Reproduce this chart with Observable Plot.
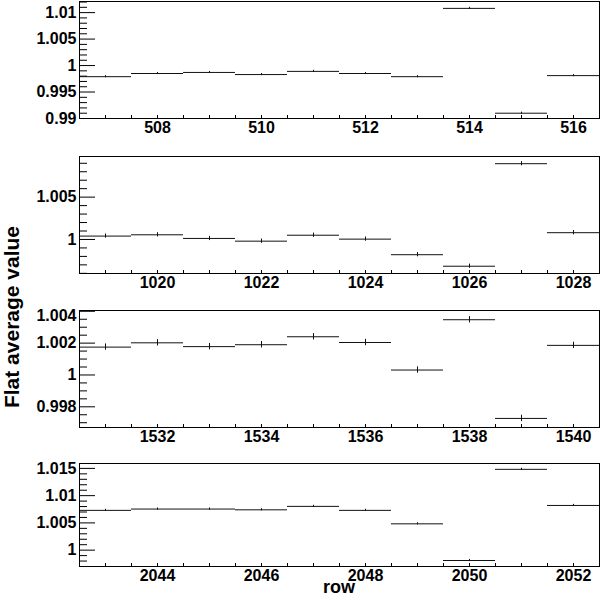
<!DOCTYPE html>
<html>
<head>
<meta charset="utf-8">
<script src="https://cdn.jsdelivr.net/npm/d3@7"></script>
<script src="https://cdn.jsdelivr.net/npm/@observablehq/plot@0.6"></script>
<style>
  html, body { margin: 0; padding: 0; background: white; }
  #wrap { position: relative; width: 600px; height: 597px; overflow: hidden; background: white;
          font-family: "Liberation Sans", Arial, Helvetica, sans-serif; }
  .panel { position: absolute; left: 0; }
  .ylab { position: absolute; left: 11px; top: 317px; transform: translate(-50%, -50%) rotate(-90deg);
          font-size: 21px; font-weight: bold; white-space: nowrap; line-height: 21px; }
  .xlab { position: absolute; left: 339px; top: 578px; transform: translateX(-50%);
          font-size: 18px; font-weight: bold; white-space: nowrap; line-height: 18px; }
</style>
</head>
<body>
<div id="wrap">
  <div class="ylab">Flat average value</div>
  <div class="xlab">row</div>
</div>
<script>
// ---- Data ----
const rows1 = [507, 508, 509, 510, 511, 512, 513, 514, 515, 516];
const vals1 = [0.9979, 0.9985, 0.9987, 0.9983, 0.9989, 0.9985, 0.9979, 1.0108, 0.9910, 0.9981];
const errs1 = [0.0002, 0.0002, 0.0002, 0.0002, 0.0002, 0.0002, 0.0002, 0.0002, 0.0002, 0.0002];

const rows2 = [1019, 1020, 1021, 1022, 1023, 1024, 1025, 1026, 1027, 1028];
const vals2 = [1.0004, 1.00055, 1.00012, 0.9998, 1.0005, 1.00004, 0.9982, 0.99684, 1.00895, 1.0008];
const errs2 = [0.00025, 0.00025, 0.00025, 0.00025, 0.00025, 0.00025, 0.00025, 0.00025, 0.00025, 0.00025];

const rows3 = [1531, 1532, 1533, 1534, 1535, 1536, 1537, 1538, 1539, 1540];
const vals3 = [1.00175, 1.00202, 1.00178, 1.0019, 1.0024, 1.00204, 1.00031, 1.00347, 0.99727, 1.00186];
const errs3 = [0.0002, 0.0002, 0.0002, 0.0002, 0.0002, 0.0002, 0.0002, 0.0002, 0.0002, 0.0002];

const rows4 = [2043, 2044, 2045, 2046, 2047, 2048, 2049, 2050, 2051, 2052];
const vals4 = [1.0073, 1.00754, 1.00754, 1.0074, 1.00803, 1.0073, 1.00483, 0.9981, 1.01483, 1.0082];
const errs4 = [0.0002, 0.0002, 0.0002, 0.0002, 0.0002, 0.0002, 0.0002, 0.0002, 0.0002, 0.0002];

// tick labels
const xLabels1 = [508, 510, 512, 514, 516];
const xLabels2 = [1020, 1022, 1024, 1026, 1028];
const xLabels3 = [1532, 1534, 1536, 1538, 1540];
const xLabels4 = [2044, 2046, 2048, 2050, 2052];

const yLabels1 = [0.99, 0.995, 1, 1.005, 1.01];
const yLabels2 = [1, 1.005];
const yLabels3 = [0.998, 1, 1.002, 1.004];
const yLabels4 = [1, 1.005, 1.01, 1.015];

const yDomain1 = [0.99, 1.0121];
const yDomain2 = [0.99598, 1.0098];
const yDomain3 = [0.9967, 1.00405];
const yDomain4 = [0.997, 1.0159];

const minorStep1 = 0.001, minorStep2 = 0.001, minorStep3 = 0.0005, minorStep4 = 0.001;

// ---- Layout ----
const W = 600, ML = 79, MR = 1;
const PW = W - ML - MR;
const FONT = '"Liberation Sans", Arial, Helvetica, sans-serif';

const panels = [
  {rows: rows1, vals: vals1, errs: errs1, xl: xLabels1, yl: yLabels1, yd: yDomain1, ms: minorStep1, top: 0,   mt: 1,  mb: 27, h: 145},
  {rows: rows2, vals: vals2, errs: errs2, xl: xLabels2, yl: yLabels2, yd: yDomain2, ms: minorStep2, top: 145, mt: 11, mb: 22, h: 150},
  {rows: rows3, vals: vals3, errs: errs3, xl: xLabels3, yl: yLabels3, yd: yDomain3, ms: minorStep3, top: 295, mt: 15, mb: 23, h: 155, shiftTop: true},
  {rows: rows4, vals: vals4, errs: errs4, xl: xLabels4, yl: yLabels4, yd: yDomain4, ms: minorStep4, top: 450, mt: 13, mb: 31, h: 147}
];

const wrap = document.getElementById("wrap");

for (const p of panels) {
  const data = p.rows.map((r, i) => ({r, v: p.vals[i], e: p.errs[i]}));
  const x0 = p.rows[0] - 0.5, x1 = p.rows[p.rows.length - 1] + 0.5;
  const ph = p.h - p.mt - p.mb;
  const minor = d3.range(Math.ceil(p.yd[0] / p.ms - 1e-6), Math.floor(p.yd[1] / p.ms + 1e-6) + 1)
    .map(k => k * p.ms)
    .filter(v => !p.yl.some(m => Math.abs(m - v) < 1e-9));
  const xticks = d3.range(x0, x1 + 0.01, 0.5);
  const ylMain = p.shiftTop ? p.yl.slice(0, -1) : p.yl;
  const ylTop = p.shiftTop ? p.yl.slice(-1) : [];

  const marks = [
    Plot.tickY(minor, {y: d => d, insetRight: PW - 8, stroke: "black", strokeWidth: 1}),
    Plot.tickY(p.yl, {y: d => d, insetRight: PW - 16, stroke: "black", strokeWidth: 1}),
    Plot.tickX(xticks, {x: d => d, insetTop: ph - 3, stroke: "black", strokeWidth: 1}),
    Plot.axisY(ylMain, {anchor: "left", tickSize: 0, tickPadding: 3, fontSize: 16, fontWeight: "bold",
                        label: null, tickFormat: d => String(d)}),
    Plot.axisX(p.xl, {anchor: "bottom", tickSize: 0, tickPadding: 3, fontSize: 16, fontWeight: "bold",
                      label: null, tickFormat: d => String(d)}),
    Plot.ruleY(data, {y: "v", x1: d => d.r - 0.5, x2: d => d.r + 0.5, stroke: "#111", strokeWidth: 1}),
    Plot.ruleX(data, {x: "r", y1: d => d.v - d.e, y2: d => d.v + d.e, stroke: "#111", strokeWidth: 1}),
    Plot.frame({stroke: "black", strokeWidth: 1})
  ];
  if (ylTop.length) {
    marks.push(Plot.axisY(ylTop, {anchor: "left", tickSize: 0, tickPadding: 3, fontSize: 16, fontWeight: "bold",
                                  label: null, dy: 5, tickFormat: d => String(d)}));
  }

  const chart = Plot.plot({
    width: W,
    height: p.h,
    marginLeft: ML,
    marginRight: MR,
    marginTop: p.mt,
    marginBottom: p.mb,
    style: {fontFamily: FONT, fontWeight: "bold", background: "white", color: "black", overflow: "visible"},
    x: {domain: [x0, x1], axis: null, label: null},
    y: {domain: p.yd, axis: null, label: null},
    marks
  });
  const div = document.createElement("div");
  div.className = "panel";
  div.style.top = p.top + "px";
  div.appendChild(chart);
  wrap.insertBefore(div, wrap.firstChild);
}
</script>
</body>
</html>
